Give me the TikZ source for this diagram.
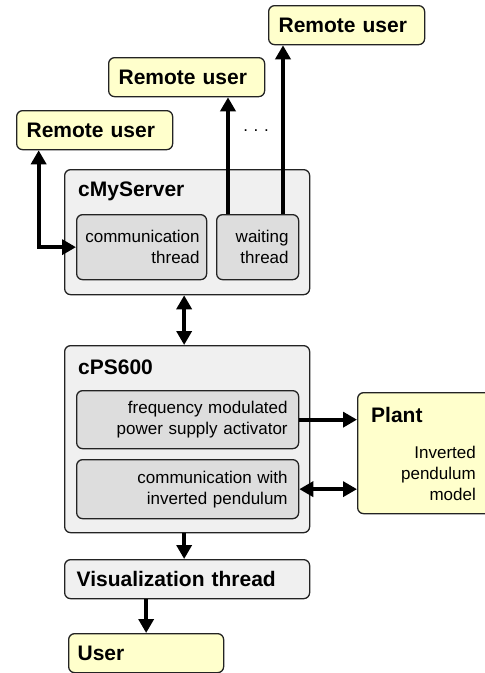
\documentclass[tikz,border=0pt]{standalone}
\usepackage{fontspec}
\setmainfont{Liberation Sans}
\usetikzlibrary{arrows.meta}

\definecolor{userfill}{RGB}{255,255,204}
\definecolor{outerfill}{RGB}{240,240,240}
\definecolor{innerfill}{RGB}{221,221,221}
\definecolor{edgecol}{RGB}{35,35,35}

\tikzset{
  box/.style={draw=edgecol, line width=1.3pt, rounded corners=6pt, anchor=north west, inner ysep=0pt},
  userbox/.style={box, fill=userfill, align=left, inner xsep=10pt, minimum height=39pt, font=\bfseries\fontsize{21}{25}\selectfont},
  outerbox/.style={box, fill=outerfill},
  innerbox/.style={box, fill=innerfill, align=right, font=\fontsize{17}{21}\selectfont},
  boxtitle/.style={anchor=west, inner sep=0pt, font=\bfseries\fontsize{21}{25}\selectfont},
  arr/.style={line width=4pt, -{Triangle[width=15pt,length=14pt]}},
  dblarr/.style={line width=4pt, {Triangle[width=15pt,length=14pt]}-{Triangle[width=15pt,length=14pt]}},
}

\begin{document}
\begin{tikzpicture}[x=1pt,y=1pt,yscale=-1]
  \clip (0,0) rectangle (485,673);

  % remote users
  \node[userbox, text width=136pt] (ru1) at (16,110) {Remote user};
  \node[userbox, text width=136pt] (ru2) at (108,57) {Remote user};
  \node[userbox, text width=136pt] (ru3) at (268,5) {Remote user};

  % server
  \node[outerbox, minimum width=245pt, minimum height=125pt] (server) at (64,169) {};
  \node[boxtitle] (servertitle) at (78,191) {cMyServer};
  \node[innerbox, inner xsep=7pt, text width=116pt, minimum height=65pt] (comm) at (76,214) {communication\\thread};
  \node[innerbox, inner xsep=10pt, text width=62pt, minimum height=65pt] (wait) at (216,214) {waiting\\thread};

  % cPS600
  \node[outerbox, minimum width=245pt, minimum height=187pt] (ps) at (64,345) {};
  \node[boxtitle] (pstitle) at (78,367) {cPS600};
  \node[innerbox, inner xsep=11pt, text width=200pt, minimum height=58pt] (freq) at (76,390) {frequency modulated\\power supply activator};
  \node[innerbox, inner xsep=11pt, text width=200pt, minimum height=59pt] (commpend) at (76,459) {communication with\\inverted pendulum};

  % plant
  \node[box, fill=userfill, minimum width=140pt, minimum height=121pt] (plant) at (357,392) {};
  \node[boxtitle] (planttitle) at (371,415) {Plant};
  \node[anchor=east, inner sep=0pt, align=right, font=\fontsize{17}{21}\selectfont] (plantmodel) at (476,473) {Inverted\\pendulum\\model};

  % visualization and user
  \node[box, fill=outerfill, align=left, inner xsep=12pt, text width=221pt, minimum height=39pt, font=\bfseries\fontsize{21}{25}\selectfont] (vis) at (64,559) {Visualization thread};
  \node[userbox, inner xsep=9pt, text width=137pt] (user) at (68,633) {User};

  \node[font=\fontsize{17}{21}\selectfont] (dots) at (256,131) {.\,\,.\,\,.};

  % connectors
  \coordinate (w1) at ([xshift=12pt]wait.north west);
  \coordinate (w2) at ([xshift=67pt]wait.north west);
  \draw[dblarr] ([xshift=-56pt]ru1.south) |- (comm.west);
  \draw[arr] (w1) -- (w1 |- ru2.south);
  \draw[arr] (w2) -- (w2 |- ru3.south);
  \draw[dblarr] ([xshift=-3pt]server.south) -- ([xshift=-3pt]ps.north);
  \draw[arr] (freq.east) -- (freq.east -| plant.west);
  \draw[dblarr] (commpend.east) -- (commpend.east -| plant.west);
  \draw[arr] ([xshift=-3pt]ps.south) -- ([xshift=-3pt]vis.north);
  \draw[arr] (vis.south -| user.north) -- (user.north);
\end{tikzpicture}
\end{document}
